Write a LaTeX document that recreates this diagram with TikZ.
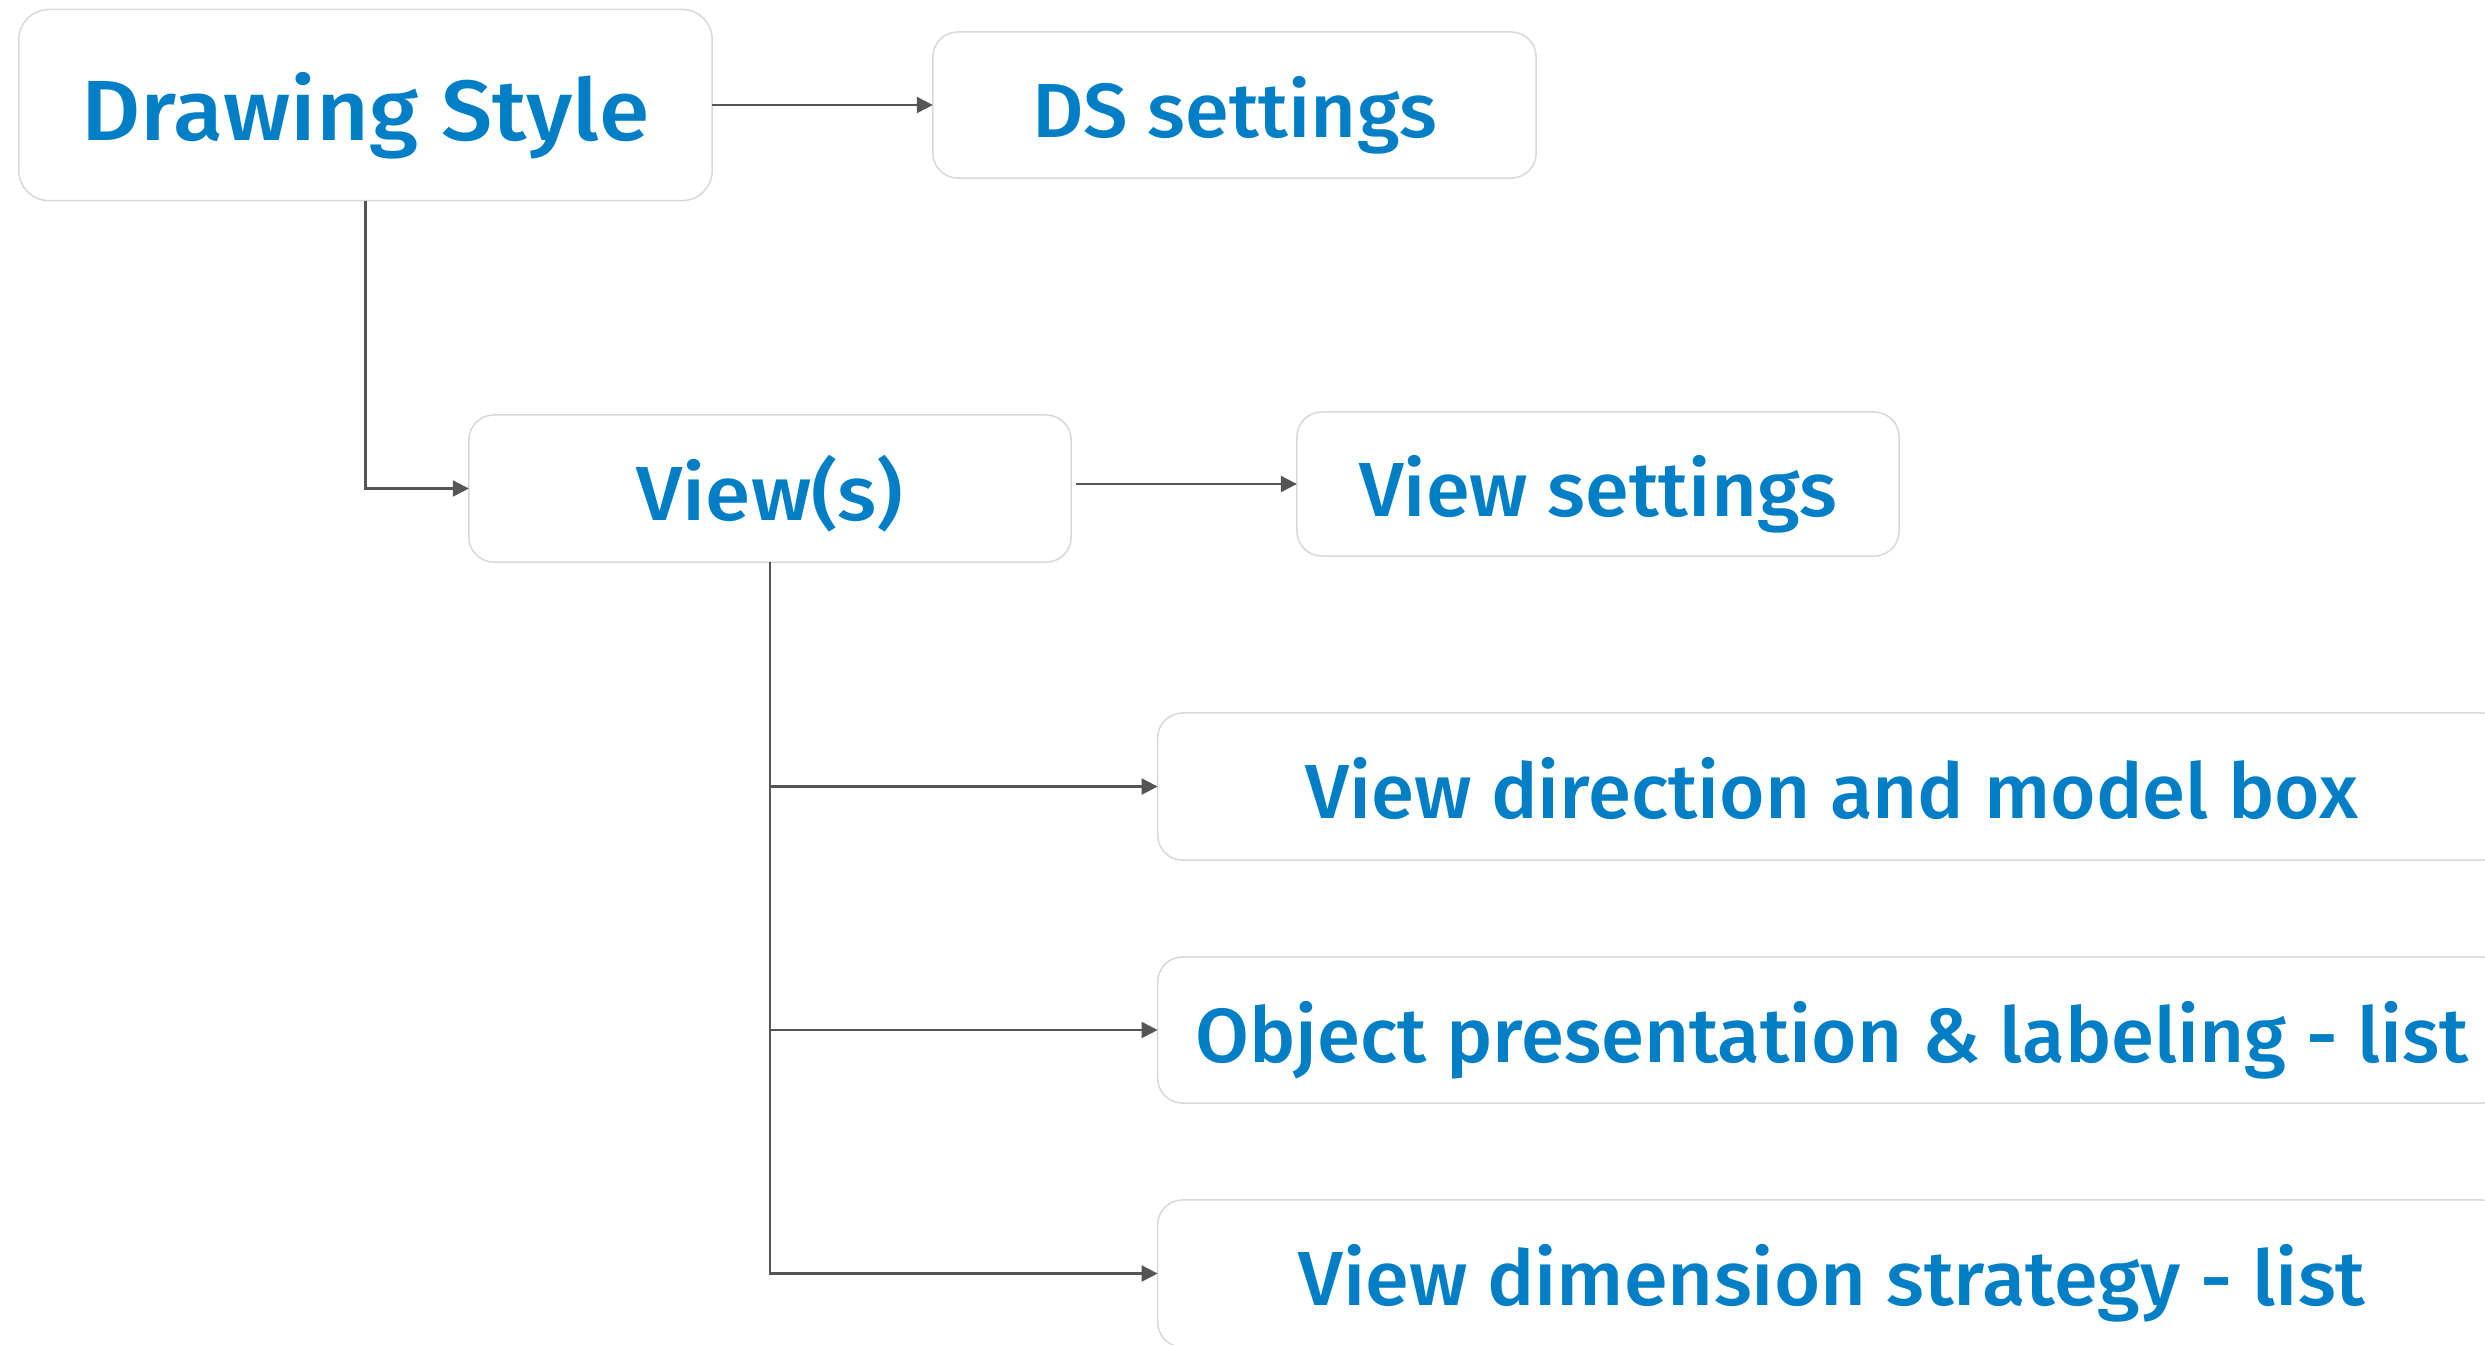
\documentclass[tikz,border=0pt]{standalone}
\usepackage{fontspec}
\setmainfont{Fira Sans Medium}
\newfontfamily\fsa{Fira Sans Medium}[FakeStretch=1.018]
\newfontfamily\fsb{Fira Sans Medium}[FakeStretch=1.035]
\newfontfamily\fsc{Fira Sans Medium}[FakeStretch=1.07]
\usetikzlibrary{arrows.meta}
\definecolor{txtblue}{RGB}{0,127,198}
\definecolor{boxgray}{RGB}{216,216,216}
\definecolor{arrgray}{RGB}{85,85,85}
\begin{document}
\begin{tikzpicture}[x=0.01cm,y=-0.01cm,
  box/.style={draw=boxgray, line width=0.015cm, fill=white, rounded corners=0.25cm,
    inner sep=0pt, outer sep=0pt, text=txtblue, font=\fsb\fontsize{21.8}{26}\selectfont,
    text height=0.64cm, text depth=0cm},
  widebox/.style={box, font=\fsa\fontsize{21.8}{26}\selectfont},
  roomybox/.style={box, font=\fsc\fontsize{21.8}{26}\selectfont},
  bigbox/.style={box, rounded corners=0.3cm, font=\fsc\fontsize{24.3}{29}\selectfont,
    text height=0.70cm},
  arr/.style={draw=arrgray, line width=0.022cm, -{Triangle[length=0.16cm,width=0.16cm]}, arrgray}
]
\useasboundingbox (0,0) rectangle (2485,1344);
\node[bigbox, minimum width=6.93cm, minimum height=1.91cm] (ds) at (365.5,105) {Drawing Style};
\node[box, minimum width=6.03cm, minimum height=1.46cm] (dss) at (1234.5,105) {DS settings};
\node[roomybox, minimum width=6.02cm, minimum height=1.47cm] (views) at (770,488.5) {View(s)};
\node[box, minimum width=6.02cm, minimum height=1.44cm] (vs) at (1598,484) {View settings};
\node[widebox, minimum width=13.48cm, minimum height=1.47cm] (b1) at (1832,786.5) {View direction and model box};
\node[widebox, minimum width=13.48cm, minimum height=1.46cm] (b2) at (1832,1030) {Object presentation \& labeling - list};
\node[box, minimum width=13.48cm, minimum height=1.47cm] (b3) at (1832,1273.5) {View dimension strategy - list};
\draw[arr] (ds.east) -- (dss.west);
\draw[arr] (ds.south) |- (views.west);
\draw[arr, shorten <=0.05cm] (views.east |- vs.west) -- (vs.west);
\draw[arr] (views.south) |- (b1.west);
\draw[arr] (views.south) |- (b2.west);
\draw[arr] (views.south) |- (b3.west);
\end{tikzpicture}
\end{document}
